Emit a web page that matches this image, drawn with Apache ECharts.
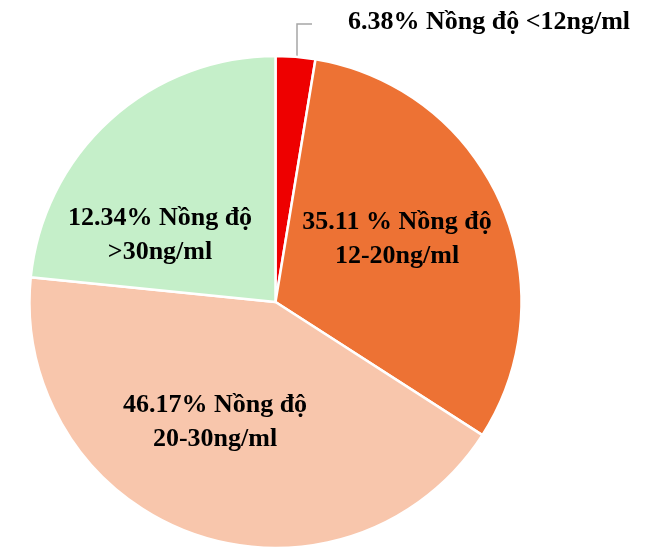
<!DOCTYPE html>
<html>
<head>
<meta charset="utf-8">
<script src="https://cdn.jsdelivr.net/npm/echarts@6/dist/echarts.min.js"></script>
<style>
  html, body { margin: 0; padding: 0; background: #fff; }
  #chart { width: 648px; height: 549px; }
</style>
</head>
<body>
<div id="chart"></div>
<script>
/* ----------  data  ---------- */
const categories = ['<12ng/ml', '12-20ng/ml', '20-30ng/ml', '>30ng/ml'];
// slice sizes as drawn in the picture (share of the circle, %)
const sliceValues = [2.6, 31.5, 42.5, 23.4];
// percentage texts printed on the labels
const labelPercents = ['6.38%', '35.11 %', '46.17%', '12.34%'];
const sliceColors = ['#EE0000', '#ED7234', '#F8C6AC', '#C5EFC9'];

/* ----------  label placement  ---------- */
const labelSpots = [
  { x: 348, y: 22, align: 'left' },
  { x: 397, y: 239, align: 'center' },
  { x: 215, y: 422, align: 'center' },
  { x: 160, y: 235, align: 'center' }
];

const chart = echarts.init(document.getElementById('chart'));

chart.setOption({
  animation: false,
  series: [
    {
      type: 'pie',
      center: [275.5, 302],
      radius: [0, 246],
      startAngle: 90,
      clockwise: true,
      avoidLabelOverlap: false,
      itemStyle: { borderColor: '#fff', borderWidth: 2.5 },
      label: {
        show: true,
        position: 'inside',
        fontFamily: '"Liberation Serif", "Times New Roman", serif',
        fontWeight: 'bold',
        fontSize: 26,
        lineHeight: 34,
        color: '#000',
        formatter: (p) => p.dataIndex === 0
          ? `${labelPercents[0]} Nồng độ ${categories[0]}`
          : `${labelPercents[p.dataIndex]} Nồng độ\n${categories[p.dataIndex]}`
      },
      labelLine: { show: false },
      emphasis: { disabled: true },
      labelLayout: (p) => {
        const s = labelSpots[p.dataIndex];
        const out = { x: s.x, y: s.y, align: s.align, verticalAlign: 'middle' };
        if (p.dataIndex === 0) {
          out.labelLinePoints = [[297, 56], [297, 24], [312, 24]];
        }
        return out;
      },
      data: categories.map((c, i) => ({
        name: c,
        value: sliceValues[i],
        itemStyle: { color: sliceColors[i] },
        labelLine: i === 0 ? { show: true, lineStyle: { color: '#A6A6A6', width: 1.5 } } : { show: false },
        label: i === 0 ? { position: 'outside' } : {}
      }))
    }
  ]
});
</script>
</body>
</html>
